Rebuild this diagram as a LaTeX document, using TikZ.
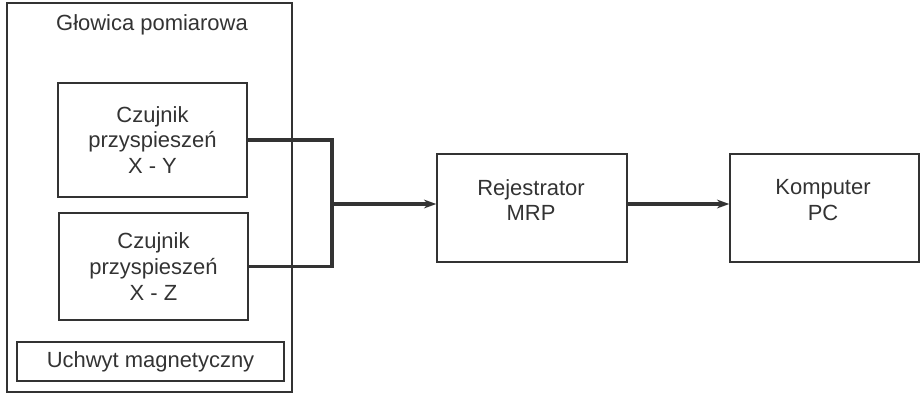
\documentclass[tikz,border=0pt]{standalone}
\usepackage{fontspec}
\setmainfont{Liberation Sans}
\usepackage{tikz}
\usetikzlibrary{positioning}
\usetikzlibrary{calc}
\usetikzlibrary{arrows.meta}

\tikzset{
    blok/.style={draw=black!80, line width=0.8pt, rectangle, inner sep=0pt},
    napis/.style={text=black!80, align=center, font=\fontsize{12.5}{14.6}\selectfont},
    sygnal/.style={draw=black!80, line width=1.8pt},
}

\begin{document}
\begin{tikzpicture}[x=0.02cm, y=-0.02cm]
    \useasboundingbox (0,0) rectangle (922,396);

    % glowica
    \node[blok, minimum width=285*0.02cm, minimum height=389*0.02cm] (glowica) at (149.5,197.5) {};
    \node[napis] (glowicaTxt) at (152,25) {Głowica pomiarowa};

    \node[blok, minimum width=189*0.02cm, minimum height=114*0.02cm, napis] (xy) at (152.5,140) {Czujnik\\przyspieszeń\\X - Y};
    \node[blok, minimum width=189*0.02cm, minimum height=107*0.02cm, napis] (xz) at (153.5,266.5) {Czujnik\\przyspieszeń\\X - Z};
    \node[blok, minimum width=267*0.02cm, minimum height=39*0.02cm, napis] (uchwyt) at (150.5,361.5) {Uchwyt magnetyczny};

    % rejestrator i komputer
    \node[blok, minimum width=190*0.02cm, minimum height=108*0.02cm] (rej) at (532,208) {};
    \node[napis] (rejTxt) at (531,200) {Rejestrator\\MRP};
    \node[blok, minimum width=189*0.02cm, minimum height=108*0.02cm] (kom) at (824.5,208) {};
    \node[napis] (komTxt) at (823,200) {Komputer\\PC};

    % polaczenia
    \coordinate (bus) at (332,204);
    \draw[sygnal] (xy.east) -| (bus);
    \draw[sygnal] (xz.east) -| (bus);
    \draw[sygnal, -{Stealth[length=7pt,width=5pt]}] (bus) -- (bus -| rej.west);
    \draw[sygnal, -{Stealth[length=7pt,width=5pt]}] (rej.east |- bus) -- (kom.west |- bus);
\end{tikzpicture}
\end{document}
